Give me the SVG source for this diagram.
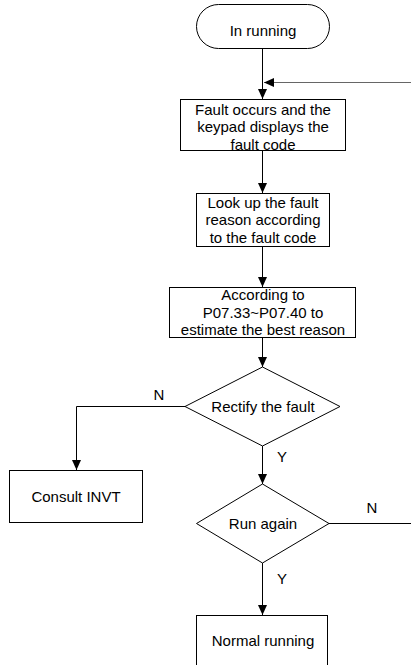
<svg xmlns="http://www.w3.org/2000/svg" width="411" height="665" viewBox="0 0 411 665">
<style>
.s{fill:#fff;stroke:#000;stroke-width:1}
.t{font-family:"Liberation Sans",Arial,sans-serif;font-size:15px;fill:#000;text-anchor:middle}
.c{fill:none;stroke:#000;stroke-width:1}
</style>
<defs>
<marker id="a" markerWidth="10" markerHeight="10" refX="10" refY="5" orient="auto" markerUnits="userSpaceOnUse">
<path d="M0,0.5 L10,5 L0,9.5 Z" fill="#000"/>
</marker>
</defs>
<rect width="411" height="665" fill="#fff"/>
<g id="connectors">
<line class="c" x1="262.5" y1="48" x2="262.5" y2="99" marker-end="url(#a)"/>
<line class="c" x1="411" y1="82.5" x2="264" y2="82.5" stroke="#666" style="stroke:#666" marker-end="url(#a)"/>
<line class="c" x1="262.5" y1="151" x2="262.5" y2="193" marker-end="url(#a)"/>
<line class="c" x1="262.5" y1="247" x2="262.5" y2="287" marker-end="url(#a)"/>
<line class="c" x1="262.5" y1="337" x2="262.5" y2="367" marker-end="url(#a)"/>
<polyline class="c" points="185,406.5 76.5,406.5 76.5,470" marker-end="url(#a)"/>
<line class="c" x1="262.5" y1="446" x2="262.5" y2="484" marker-end="url(#a)"/>
<line class="c" x1="329" y1="523.5" x2="411" y2="523.5"/>
<line class="c" x1="262.5" y1="563" x2="262.5" y2="615" marker-end="url(#a)"/>
<text class="t" x="159" y="400">N</text>
<text class="t" x="282" y="462">Y</text>
<text class="t" x="372" y="513">N</text>
<text class="t" x="282" y="584">Y</text>
</g>
<g id="start">
<rect class="s" x="196.5" y="4.5" width="133" height="44" rx="22" ry="22"/>
<text class="t" x="263" y="36">In running</text>
</g>
<g id="fault">
<rect class="s" x="180.5" y="99.5" width="165" height="51"/>
<text class="t" x="263" y="114.5">Fault occurs and the</text>
<text class="t" x="263" y="132">keypad displays the</text>
<text class="t" x="263" y="149.5">fault code</text>
</g>
<g id="lookup">
<rect class="s" x="196.5" y="193.5" width="133" height="53"/>
<text class="t" x="263" y="207.5">Look up the fault</text>
<text class="t" x="263" y="225">reason according</text>
<text class="t" x="263" y="242.5">to the fault code</text>
</g>
<g id="estimate">
<rect class="s" x="169.5" y="287.5" width="186" height="50"/>
<text class="t" x="263" y="299.5">According to</text>
<text class="t" x="263" y="317.5">P07.33~P07.40 to</text>
<text class="t" x="263" y="335">estimate the best reason</text>
</g>
<g id="rectify">
<polygon class="s" points="262.5,367 340,406.5 262.5,446 185,406.5"/>
<text class="t" x="263" y="412">Rectify the fault</text>
</g>
<g id="consult">
<rect class="s" x="9.5" y="470.5" width="133" height="52"/>
<text class="t" x="76" y="502">Consult INVT</text>
</g>
<g id="runagain">
<polygon class="s" points="262.5,484 329,523.5 262.5,563 196.5,523.5"/>
<text class="t" x="263" y="528.5">Run again</text>
</g>
<g id="normal">
<rect class="s" x="196.5" y="615.5" width="131" height="60"/>
<text class="t" x="263" y="646">Normal running</text>
</g>
</svg>
